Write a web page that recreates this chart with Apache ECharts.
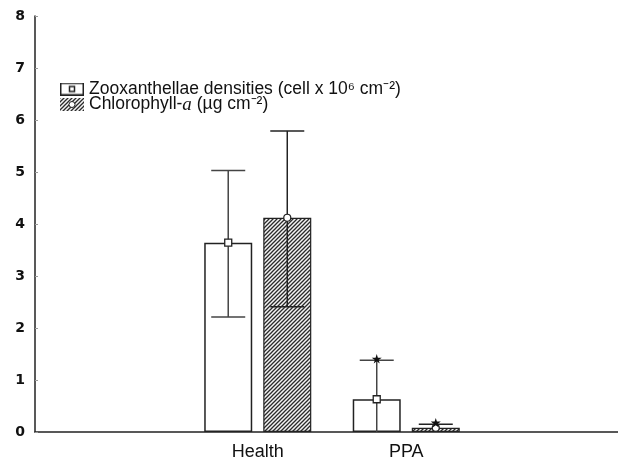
<!DOCTYPE html>
<html>
<head>
<meta charset="utf-8">
<script src="https://cdn.jsdelivr.net/npm/echarts@6/dist/echarts.min.js"></script>
<style>
	html, body { margin: 0; padding: 0; background: #fff; }
	#main { width: 618px; height: 462px; }
</style>
</head>
<body>
<div id="main"></div>
<script>
// groups on the x axis (empty bands left and right, like the original plot)
var groups = ['Health', 'PPA'];
var categories = [''].concat(groups, ['']);

// Zooxanthellae densities (cell x 10^6 cm^-2)
var zooxMean = [3.64, 0.63];
var zooxHigh = [5.03, 1.38];
var zooxLow = [2.21, -0.12];

// Chlorophyll-a (µg cm^-2)
var chlMean = [4.12, 0.08];
var chlHigh = [5.79, 0.15];
var chlLow = [2.41, -0.01];

// "*" marks on top of the error bars
var zooxStar = [false, true];
var chlStar = [false, true];

var yTicks = [0, 1, 2, 3, 4, 5, 6, 7, 8];

var zooxName = 'Zooxanthellae densities';
var chlName = 'Chlorophyll-a';

var barW = 48;
var barGap = 0.23;
var offset = barW * (1 + barGap) / 2;
var capHalf = 17;

// hatch pattern for the chlorophyll bars
function makeHatch() {
	var c = document.createElement('canvas');
	c.width = 4; c.height = 4;
	var ctx = c.getContext('2d');
	ctx.fillStyle = '#f4f4f4';
	ctx.fillRect(0, 0, 4, 4);
	ctx.strokeStyle = '#2a2a2a';
	ctx.lineWidth = 1.3;
	ctx.beginPath();
	ctx.moveTo(0, 4); ctx.lineTo(4, 0);
	ctx.moveTo(-1, 1); ctx.lineTo(1, -1);
	ctx.moveTo(3, 5); ctx.lineTo(5, 3);
	ctx.stroke();
	return c;
}
var hatch = makeHatch();

// legend icons
function makeIcon(hatched) {
	var c = document.createElement('canvas');
	c.width = 24; c.height = 13;
	var ctx = c.getContext('2d');
	if (hatched) {
		ctx.fillStyle = ctx.createPattern(hatch, 'repeat');
		ctx.fillRect(0, 0, 24, 13);
		ctx.fillStyle = '#fff';
		ctx.strokeStyle = '#222';
		ctx.lineWidth = 1;
		ctx.beginPath();
		ctx.arc(12, 6.5, 3, 0, Math.PI * 2);
		ctx.fill(); ctx.stroke();
	} else {
		ctx.fillStyle = '#fff';
		ctx.fillRect(0, 0, 24, 13);
		ctx.strokeStyle = '#222';
		ctx.lineWidth = 1.5;
		ctx.strokeRect(0.75, 0.75, 22.5, 11.5);
		ctx.strokeRect(9.5, 4, 5, 5);
	}
	return 'image://' + c.toDataURL();
}

function barData(vals) {
	var out = [];
	for (var i in vals) {
		out.push([i * 1 + 1, vals[i]]);
	}
	return out;
}

function errData(lo, hi, mean, star) {
	var out = [];
	for (var i in lo) {
		out.push([i * 1 + 1, lo[i], hi[i], mean[i], star[i] ? 1 : 0]);
	}
	return out;
}

function errRender(dx, marker, lineColor) {
	return function (params, api) {
		var idx = api.value(0);
		var lo = api.coord([idx, api.value(1)]);
		var hi = api.coord([idx, api.value(2)]);
		var mid = api.coord([idx, api.value(3)]);
		var x = lo[0] + dx;
		var st = { stroke: lineColor, lineWidth: 1.5 };
		var kids = [
			{ type: 'line', shape: { x1: x, y1: hi[1], x2: x, y2: lo[1] }, style: st },
			{ type: 'line', shape: { x1: x - capHalf, y1: hi[1], x2: x + capHalf, y2: hi[1] }, style: st },
			{ type: 'line', shape: { x1: x - capHalf, y1: lo[1], x2: x + capHalf, y2: lo[1] }, style: st }
		];
		if (marker == 'square') {
			kids.push({ type: 'rect', shape: { x: x - 3.5, y: mid[1] - 3.5, width: 7, height: 7 },
				style: { fill: '#fff', stroke: '#222', lineWidth: 1.3 } });
		} else {
			kids.push({ type: 'circle', shape: { cx: x, cy: mid[1], r: 3.5 },
				style: { fill: '#fff', stroke: '#222', lineWidth: 1.2 } });
		}
		if (api.value(4) == 1) {
			kids.push({ type: 'path', shape: { pathData: 'M50,0 L61,35 L98,35 L68,57 L79,91 L50,70 L21,91 L32,57 L2,35 L39,35 Z',
				x: x - 5, y: hi[1] - 6.5, width: 10, height: 10 }, style: { fill: '#111' } });
		}
		return { type: 'group', children: kids };
	};
}

var chart = echarts.init(document.getElementById('main'));

var option = {
	animation: false,
	backgroundColor: '#fff',
	grid: { left: 35, right: -11, top: 16, bottom: 30, outerBoundsMode: 'none' },
	legend: {
		orient: 'vertical',
		left: 55,
		top: 75,
		itemWidth: 24,
		itemHeight: 13,
		itemGap: -3,
		selectedMode: false,
		data: [
			{ name: zooxName, icon: makeIcon(false) },
			{ name: chlName, icon: makeIcon(true) }
		],
		formatter: function (name) {
			if (name == zooxName) {
				return '{t|Zooxanthellae densities (cell x 10⁶ cm⁻²)}';
			}
			return '{t|Chlorophyll-}{i|a}{t| (µg cm⁻²)}';
		},
		textStyle: {
			lineHeight: 15,
			rich: {
				t: { fontFamily: 'Liberation Sans', fontSize: 17.5, lineHeight: 15, color: '#111' },
				i: { fontFamily: 'Liberation Serif', fontStyle: 'italic', fontSize: 19, lineHeight: 15, color: '#111' }
			}
		}
	},
	xAxis: {
		type: 'category',
		data: categories,
		boundaryGap: true,
		axisLine: { lineStyle: { color: '#222', width: 1.5 } },
		axisTick: { inside: true, alignWithLabel: true, length: 4, lineStyle: { color: '#333' } },
		axisLabel: { fontFamily: 'Liberation Sans', fontSize: 18, color: '#111', margin: 11 }
	},
	yAxis: {
		type: 'value',
		min: yTicks[0],
		max: yTicks[yTicks.length - 1],
		interval: 1,
		splitLine: { show: false },
		axisLine: { show: true, lineStyle: { color: '#222', width: 1.5 } },
		axisTick: { show: true, inside: true, length: 3, lineStyle: { color: '#999' } },
		axisLabel: { fontFamily: 'DejaVu Sans', fontWeight: 'bold', fontSize: 14, color: '#111', margin: 10 }
	},
	series: [
		{
			name: zooxName,
			type: 'bar',
			barWidth: barW,
			barGap: (barGap * 100) + '%',
			data: barData(zooxMean),
			itemStyle: { color: '#fff', borderColor: '#222', borderWidth: 1.5 }
		},
		{
			name: chlName,
			type: 'bar',
			barWidth: barW,
			data: barData(chlMean),
			itemStyle: { color: { image: hatch, repeat: 'repeat' }, borderColor: '#222', borderWidth: 1.2 }
		},
		{
			name: 'zoox err',
			type: 'custom',
			clip: true,
			z: 5,
			data: errData(zooxLow, zooxHigh, zooxMean, zooxStar),
			renderItem: errRender(-offset, 'square', '#444')
		},
		{
			name: 'chl err',
			type: 'custom',
			clip: true,
			z: 5,
			data: errData(chlLow, chlHigh, chlMean, chlStar),
			renderItem: errRender(offset, 'circle', '#222')
		}
	]
};

chart.setOption(option);
</script>
</body>
</html>
